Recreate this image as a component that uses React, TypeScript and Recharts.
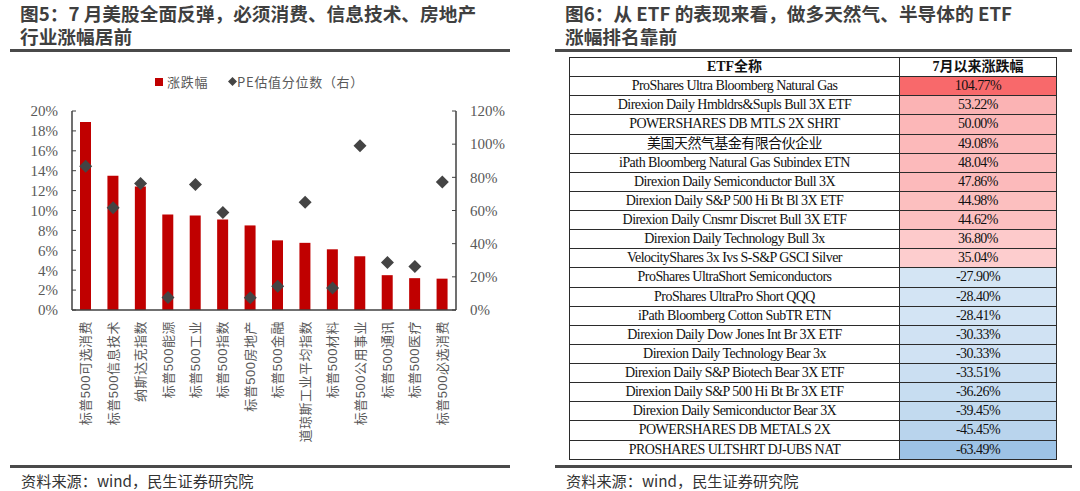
import { ComposedChart, Bar, Scatter, XAxis, YAxis } from 'recharts'

const categories = [
  '标普500可选消费', '标普500信息技术', '纳斯达克指数', '标普500能源', '标普500工业',
  '标普500指数', '标普500房地产', '标普500金融', '道琼斯工业平均指数', '标普500材料',
  '标普500公用事业', '标普500通讯', '标普500医疗', '标普500必选消费',
]
const changeValues = [18.9, 13.5, 12.4, 9.6, 9.5, 9.1, 8.5, 7.0, 6.75, 6.1, 5.4, 3.5, 3.2, 3.15]
const peValues = [86.7, 61.6, 76.3, 7.6, 75.7, 58.8, 7.4, 14.3, 65.0, 13.2, 99.1, 28.7, 26.3, 77.2]
const leftTicks = [0, 2, 4, 6, 8, 10, 12, 14, 16, 18, 20]
const rightTicks = [0, 20, 40, 60, 80, 100, 120]

const etfNames = [
  'ProShares Ultra Bloomberg Natural Gas',
  'Direxion Daily Hmbldrs&Supls Bull 3X ETF',
  'POWERSHARES DB MTLS 2X SHRT',
  '美国天然气基金有限合伙企业',
  'iPath Bloomberg Natural Gas Subindex ETN',
  'Direxion Daily Semiconductor Bull 3X',
  'Direxion Daily S&P 500 Hi Bt Bl 3X ETF',
  'Direxion Daily Cnsmr Discret Bull 3X ETF',
  'Direxion Daily Technology Bull 3x',
  'VelocityShares 3x Ivs S-S&P GSCI Silver',
  'ProShares UltraShort Semiconductors',
  'ProShares UltraPro Short QQQ',
  'iPath Bloomberg Cotton SubTR ETN',
  'Direxion Daily Dow Jones Int Br 3X ETF',
  'Direxion Daily Technology Bear 3x',
  'Direxion Daily S&P Biotech Bear 3X ETF',
  'Direxion Daily S&P 500 Hi Bt Br 3X ETF',
  'Direxion Daily Semiconductor Bear 3X',
  'POWERSHARES DB METALS 2X',
  'PROSHARES ULTSHRT DJ-UBS NAT',
]
const etfChanges = [
  104.77, 53.22, 50.0, 49.08, 48.04, 47.86, 44.98, 44.62, 36.8, 35.04,
  -27.9, -28.4, -28.41, -30.33, -30.33, -33.51, -36.26, -39.45, -45.45, -63.49,
]

const chartData = categories.map((name, i) => ({
  name,
  change: changeValues[i],
  pe: peValues[i],
}))

const GRAY = '#595959'
const AXIS = '#404040'
const SERIF = "'Liberation Serif', 'Times New Roman', 'Noto Sans CJK SC', serif"
const SANS = "'Noto Sans CJK SC', 'Noto Sans', sans-serif"

// Excel-like 2-sided colour scale: white at 0, red for max, blue for min
function cellColor(v: number): string {
  const maxPos = Math.max(...etfChanges)
  const minNeg = Math.min(...etfChanges)
  if (v >= 0) {
    const t = v / maxPos
    return `rgb(${Math.round(255 - 7 * t)},${Math.round(255 - 150 * t)},${Math.round(255 - 148 * t)})`
  }
  const t = v / minNeg
  return `rgb(${Math.round(255 - 98 * t)},${Math.round(255 - 60 * t)},${Math.round(255 - 25 * t)})`
}

function Diamond(props: any) {
  const { cx, cy } = props
  if (cx == null || cy == null) return null
  const r = 6.5
  return (
    <polygon
      points={`${cx},${cy - r} ${cx + r},${cy} ${cx},${cy + r} ${cx - r},${cy}`}
      fill="#444444"
    />
  )
}

// labels rotated -90deg, reading bottom-to-top, end anchored under the axis
function RotatedTick(props: any) {
  const { x, y, payload } = props
  return (
    <text
      transform={`translate(${x},${y + 3}) rotate(-90)`}
      fill={GRAY}
      fontSize={13}
      letterSpacing={0.5}
      fontFamily="'Liberation Sans', 'Noto Sans CJK SC', sans-serif"
      textAnchor="end"
      dominantBaseline="central"
    >
      {payload.value}
    </text>
  )
}

function Title({ lines, left }: { lines: string[]; left: number }) {
  return (
    <div
      style={{
        position: 'absolute',
        left,
        top: 2,
        fontFamily: SANS,
        fontWeight: 700,
        fontSize: 18.7,
        lineHeight: '22.5px',
        color: '#3f3f3f',
        whiteSpace: 'nowrap',
      }}
    >
      {lines.map((l) => (
        <div key={l}>{l}</div>
      ))}
    </div>
  )
}

function Rule({ left, width, top }: { left: number; width: number; top: number }) {
  return <div style={{ position: 'absolute', left, top, width, height: 2.5, background: '#4a4a4a' }} />
}

function Source({ left }: { left: number }) {
  return (
    <div
      style={{
        position: 'absolute',
        left,
        top: 469,
        fontFamily: SANS,
        fontSize: 15.2,
        lineHeight: '22px',
        color: '#333',
        whiteSpace: 'nowrap',
      }}
    >
      资料来源：wind，民生证券研究院
    </div>
  )
}

function LeftChart() {
  return (
    <div style={{ position: 'absolute', left: 0, top: 0, width: 540, height: 491 }}>
      <Title lines={['图5：7 月美股全面反弹，必须消费、信息技术、房地产', '行业涨幅居前']} left={20} />
      <Rule left={10} width={500} top={49} />
      <div
        style={{
          position: 'absolute',
          left: 155,
          top: 72,
          fontFamily: SANS,
          fontSize: 13,
          letterSpacing: 0.7,
          color: GRAY,
          whiteSpace: 'nowrap',
          display: 'flex',
          alignItems: 'center',
        }}
      >
        <span style={{ display: 'inline-block', width: 8, height: 8, background: '#C00000', marginRight: 4 }} />
        <span>涨跌幅</span>
        <svg width={9} height={9} style={{ marginLeft: 20, marginRight: 0 }}>
          <polygon points="4.5,0 9,4.5 4.5,9 0,4.5" fill="#444" />
        </svg>
        <span>PE估值分位数（右）</span>
      </div>
      <div style={{ position: 'absolute', left: 0, top: 0 }}>
        <ComposedChart
          width={540}
          height={491}
          data={chartData}
          margin={{ top: 111, right: 0, bottom: 0, left: 0 }}
          barCategoryGap={0}
        >
          <XAxis
            dataKey="name"
            interval={0}
            height={181}
            tickLine={false}
            axisLine={{ stroke: AXIS, strokeWidth: 1.5 }}
            tick={<RotatedTick />}
          />
          <YAxis
            yAxisId="left"
            width={72}
            domain={[0, 20]}
            ticks={leftTicks}
            interval={0}
            tickFormatter={(v) => `${v}%`}
            tickSize={-4}
            tickMargin={18}
            tickLine={{ stroke: AXIS }}
            axisLine={{ stroke: AXIS, strokeWidth: 1.5 }}
            tick={{ fill: GRAY, fontSize: 15, fontFamily: SERIF }}
          />
          <YAxis
            yAxisId="right"
            orientation="right"
            width={84}
            domain={[0, 120]}
            ticks={rightTicks}
            interval={0}
            tickFormatter={(v) => `${v}%`}
            tickSize={-4}
            tickMargin={18}
            tickLine={{ stroke: AXIS }}
            axisLine={{ stroke: AXIS, strokeWidth: 1.5 }}
            tick={{ fill: GRAY, fontSize: 15, fontFamily: SERIF }}
          />
          <Bar yAxisId="left" dataKey="change" fill="#C00000" barSize={11} isAnimationActive={false} />
          <Scatter yAxisId="right" dataKey="pe" shape={<Diamond />} isAnimationActive={false} />
        </ComposedChart>
      </div>
      <Rule left={10} width={500} top={465} />
      <Source left={21} />
    </div>
  )
}

function EtfTable() {
  const cell = {
    border: '1px solid #2b2b2b',
    padding: 0,
    textAlign: 'center' as const,
    height: 18,
    lineHeight: '18px',
    whiteSpace: 'nowrap' as const,
    overflow: 'hidden',
  }
  return (
    <div style={{ position: 'absolute', left: 540, top: 0, width: 540, height: 491 }}>
      <Title lines={['图6：从 ETF 的表现来看，做多天然气、半导体的 ETF', '涨幅排名靠前']} left={25} />
      <Rule left={15} width={517} top={49} />
      <table
        style={{
          position: 'absolute',
          left: 29,
          top: 57,
          width: 487,
          borderCollapse: 'collapse',
          tableLayout: 'fixed',
          fontFamily: SERIF,
          fontSize: 14,
          letterSpacing: -0.55,
          color: '#111',
        }}
      >
        <colgroup>
          <col style={{ width: 330 }} />
          <col style={{ width: 157 }} />
        </colgroup>
        <tbody>
          <tr style={{ height: 19.14 }}>
            <td style={{ ...cell, fontWeight: 700, letterSpacing: 0 }}>ETF全称</td>
            <td style={{ ...cell, fontWeight: 700, letterSpacing: 0 }}>7月以来涨跌幅</td>
          </tr>
          {etfNames.map((n, i) => (
            <tr key={n} style={{ height: 19.14 }}>
              <td style={cell}>{n}</td>
              <td style={{ ...cell, background: cellColor(etfChanges[i]) }}>
                {etfChanges[i].toFixed(2)}%
              </td>
            </tr>
          ))}
        </tbody>
      </table>
      <Rule left={15} width={517} top={465} />
      <Source left={26} />
    </div>
  )
}

export default function App() {
  return (
    <div
      style={{
        position: 'fixed',
        left: 0,
        top: 0,
        width: 1080,
        height: 491,
        background: '#fff',
        overflow: 'hidden',
      }}
    >
      <LeftChart />
      <EtfTable />
    </div>
  )
}
